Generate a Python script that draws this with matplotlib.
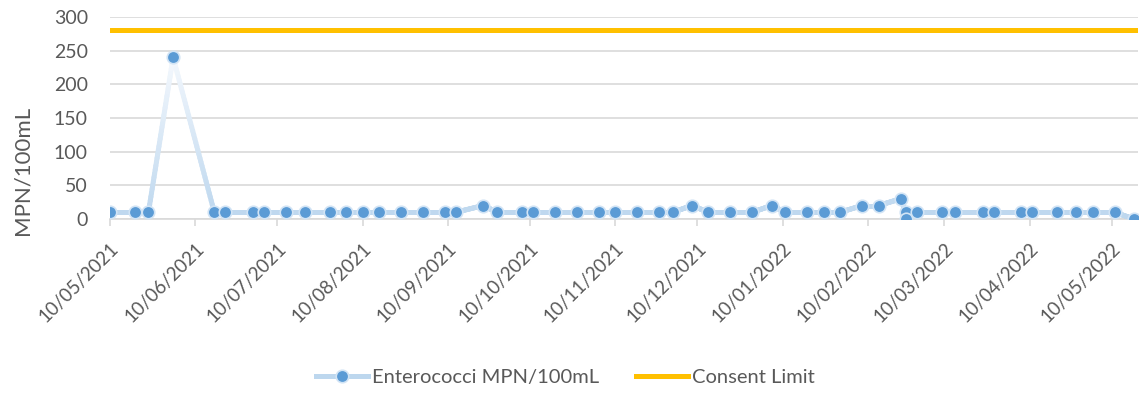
import datetime as dt
import numpy as np
import matplotlib
matplotlib.use('Agg')
import matplotlib.pyplot as plt
import matplotlib.dates as mdates
from matplotlib.collections import LineCollection
from matplotlib.colors import LinearSegmentedColormap, Normalize
from matplotlib.lines import Line2D

plt.rcParams['font.family'] = ['Lato', 'DejaVu Sans']

# sample dates and enterococci results
sample_dates = [
    '2021-05-10', '2021-05-19', '2021-05-24', '2021-06-02', '2021-06-17',
    '2021-06-21', '2021-07-01', '2021-07-05', '2021-07-13', '2021-07-20',
    '2021-07-29', '2021-08-04', '2021-08-10', '2021-08-16', '2021-08-24',
    '2021-09-01', '2021-09-09', '2021-09-13', '2021-09-23', '2021-09-28',
    '2021-10-07', '2021-10-11', '2021-10-19', '2021-10-27', '2021-11-04',
    '2021-11-10', '2021-11-18', '2021-11-26', '2021-12-01', '2021-12-08',
    '2021-12-14', '2021-12-22', '2021-12-30', '2022-01-06', '2022-01-11',
    '2022-01-19', '2022-01-25', '2022-01-31', '2022-02-08', '2022-02-14',
    '2022-02-22', '2022-02-24', '2022-02-24', '2022-02-28', '2022-03-09',
    '2022-03-14', '2022-03-24', '2022-03-28', '2022-04-07', '2022-04-11',
    '2022-04-20', '2022-04-27', '2022-05-03', '2022-05-11', '2022-05-18',
]
enterococci = [
    10, 10, 10, 240, 10,
    10, 10, 10, 10, 10,
    10, 10, 10, 10, 10,
    10, 10, 10, 20, 10,
    10, 10, 10, 10, 10,
    10, 10, 10, 10, 20,
    10, 10, 10, 20, 10,
    10, 10, 10, 20, 20,
    30, 10, 0, 10, 10,
    10, 10, 10, 10, 10,
    10, 10, 10, 10, 0,
]
consent_limit = 280
tick_dates = ['2021-%02d-10' % m for m in range(5, 13)] + \
             ['2022-%02d-10' % m for m in range(1, 6)]

dates = [dt.datetime.strptime(d, '%Y-%m-%d') for d in sample_dates]
ticks = [dt.datetime.strptime(d, '%Y-%m-%d') for d in tick_dates]
x_lo = dates[0]
x_hi = dt.datetime(2022, 5, 19, 12)

txt = '#595959'
line_c = '#BDD7EE'
mark_c = '#5B9BD5'

fig = plt.figure(figsize=(11.4, 3.94), dpi=100)
ax = fig.add_axes([110 / 1140, 1 - 219 / 394, 1028 / 1140, 202 / 394])

# series line with a vertical colour fade (Excel gradient line look)
xn = mdates.date2num(dates)
yv = np.asarray(enterococci, dtype=float)
segs, mids = [], []
for i in range(len(xn) - 1):
    t = np.linspace(0, 1, 41)
    xs = xn[i] + (xn[i + 1] - xn[i]) * t
    ys = yv[i] + (yv[i + 1] - yv[i]) * t
    for k in range(len(t) - 1):
        segs.append([(xs[k], ys[k]), (xs[k + 1], ys[k + 1])])
        mids.append(0.5 * (ys[k] + ys[k + 1]))
fade = LinearSegmentedColormap.from_list('fade', [line_c, '#F4F8FD'])
lc = LineCollection(segs, cmap=fade, norm=Normalize(0, 240), lw=3.6,
                    capstyle='round', zorder=3)
lc.set_array(np.asarray(mids))
ax.add_collection(lc)
ax.plot(dates, enterococci, ls='none', marker='o', ms=9, mfc=mark_c,
        mec='#D2E4F5', mew=1.2, zorder=4)
ax.plot([x_lo, x_hi], [consent_limit, consent_limit], color='#FFC000',
        lw=3.6, zorder=2)

ax.set_xlim(x_lo, x_hi)
ax.set_ylim(0, 300)
ax.set_yticks(range(0, 301, 50))
ax.set_xticks(ticks)
ax.xaxis.set_major_formatter(mdates.DateFormatter('%d/%m/%Y'))
ax.grid(axis='y', color='#D9D9D9', lw=1.2)
ax.set_axisbelow(True)
for s in ['top', 'right', 'left']:
    ax.spines[s].set_visible(False)
ax.spines['bottom'].set_color('#D9D9D9')
ax.spines['bottom'].set_linewidth(1.2)
ax.tick_params(axis='y', length=0, labelsize=14, labelcolor=txt, pad=16)
ax.tick_params(axis='x', length=5, color='#D9D9D9', width=1.2,
               labelsize=13.5, labelcolor=txt, pad=10)
plt.setp(ax.get_xticklabels(), rotation=45, ha='right',
         rotation_mode='anchor')
fig.text(23 / 1140, 1 - 170 / 394, 'MPN/100mL', rotation=90, fontsize=16,
         color=txt, ha='center', va='center')

handles = [
    Line2D([], [], color=line_c, lw=3.6, marker='o', ms=9, mfc=mark_c,
           mec='#D2E4F5', mew=1.2),
    Line2D([], [], color='#FFC000', lw=3.6),
]
fig.legend(handles, ['Enterococci MPN/100mL', 'Consent Limit'],
           loc='center', bbox_to_anchor=(0.496, 0.043), ncol=2,
           frameon=False, fontsize=14.5, labelcolor=txt, handlelength=2.6,
           columnspacing=1.8, handletextpad=0.2)

fig.savefig('out.png', dpi=100)
